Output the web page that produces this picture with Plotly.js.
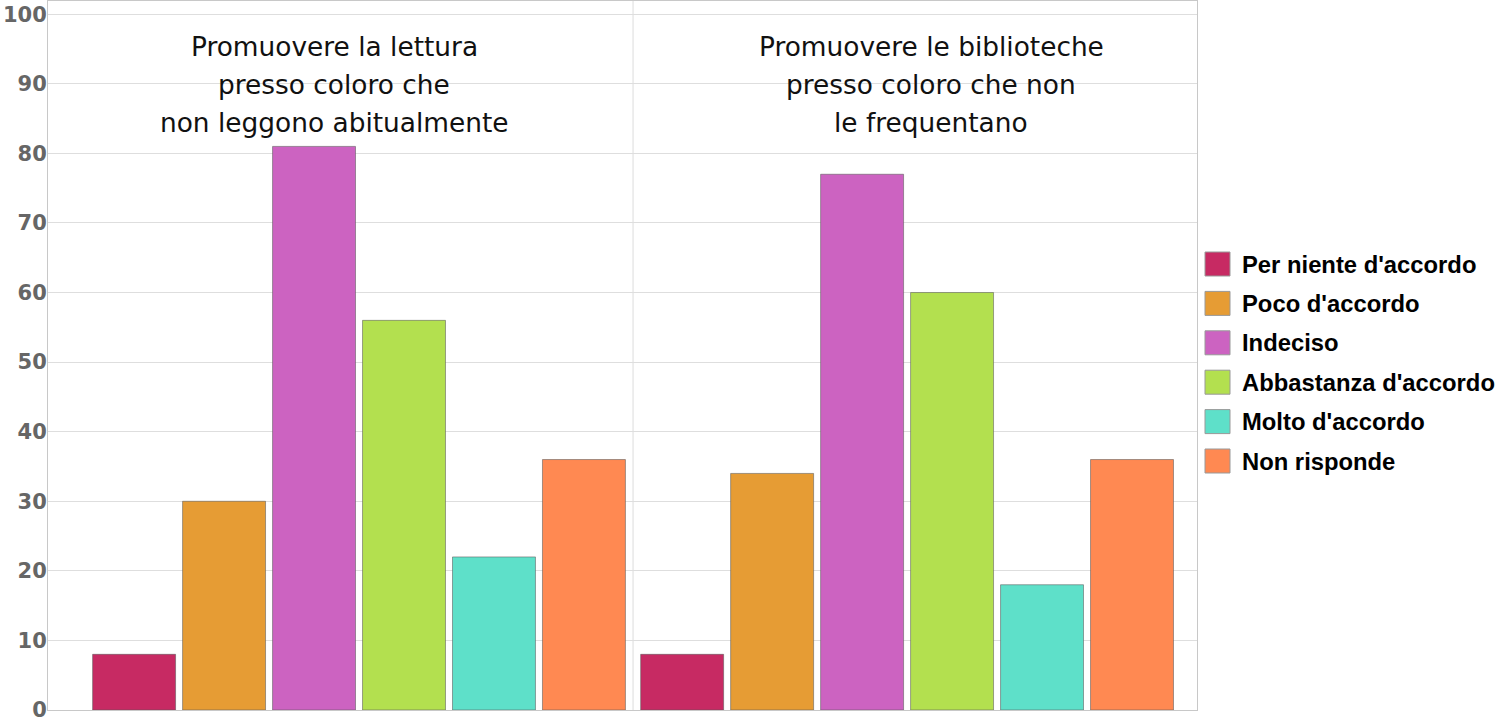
<!DOCTYPE html>
<html>
<head>
<meta charset="utf-8">
<script src="https://cdn.plot.ly/plotly-3.0.1.min.js"></script>
<style>html,body{margin:0;padding:0;background:#fff;}#chart{width:1496px;height:724px;}</style>
</head>
<body>
<div id="chart"></div>
<script>
var categories = ["Promuovere la lettura\npresso coloro che\nnon leggono abitualmente",
                  "Promuovere le biblioteche\npresso coloro che non\nle frequentano"];
var seriesNames = ["Per niente d'accordo", "Poco d'accordo", "Indeciso", "Abbastanza d'accordo", "Molto d'accordo", "Non risponde"];
var seriesColors = ["#C72A63", "#E69C34", "#CC63C1", "#B3E04F", "#5EE0C9", "#FF8952"];
var perNiente = [8, 8];
var poco = [30, 34];
var indeciso = [81, 77];
var abbastanza = [56, 60];
var molto = [22, 18];
var nonRisponde = [36, 36];
var seriesValues = [perNiente, poco, indeciso, abbastanza, molto, nonRisponde];
var yTicks = [0, 10, 20, 30, 40, 50, 60, 70, 80, 90, 100];

var xIdx = categories.map(function(c, i){ return i; });
var traces = seriesNames.map(function(name, k){
  return {
    type: 'bar', name: name, x: xIdx, y: seriesValues[k],
    marker: {color: seriesColors[k], line: {color: 'rgba(90,90,90,0.55)', width: 1}},
    hoverinfo: 'y+name'
  };
});

var annotations = [];
var lineY = [95.3, 89.95, 84.5];
var titleX = [0.249, 0.7685];
categories.forEach(function(c, i){
  c.split('\n').forEach(function(line, j){
    annotations.push({xref: 'paper', yref: 'y', x: titleX[i], y: lineY[j], text: line, showarrow: false,
      xanchor: 'center', yanchor: 'middle', font: {family: 'DejaVu Sans', size: 26.4, color: '#111'}});
  });
});

var shapes = [{type: 'line', xref: 'x', yref: 'paper', x0: 0.5, x1: 0.5, y0: 0, y1: 1,
  line: {color: '#dcdcdc', width: 1}, layer: 'below'}];

// custom legend
var legX0 = 1205, legYStart = 264, legStep = 39.4;
seriesNames.forEach(function(name, k){
  var cy = legYStart + k * legStep;
  shapes.push({type: 'rect', xref: 'paper', yref: 'paper',
    x0: (legX0 - 48) / (1197 - 48), x1: (legX0 + 25 - 48) / (1197 - 48),
    y0: (710 - (cy + 12)) / (710 - 1), y1: (710 - (cy - 12)) / (710 - 1),
    fillcolor: seriesColors[k], line: {color: '#999', width: 1}});
  annotations.push({xref: 'paper', yref: 'paper', x: (1240 - 48) / (1197 - 48), y: (710 - cy) / (710 - 1),
    xanchor: 'left', yanchor: 'middle', text: name, showarrow: false,
    font: {family: 'Liberation Sans', size: 23.8, color: '#000', weight: 'bold'}});
});

var layout = {
  width: 1496, height: 724,
  margin: {l: 48, r: 299, t: 1, b: 14, pad: 0},
  paper_bgcolor: '#fff', plot_bgcolor: '#fff',
  barmode: 'group', bargap: 0.015, bargroupgap: 0.078,
  showlegend: false,
  xaxis: {type: 'linear', range: [-0.5675, 1.529], showticklabels: false, showgrid: false,
    zeroline: false, showline: true, linecolor: '#c8c8c8', linewidth: 1, mirror: true, ticks: ''},
  yaxis: {range: [0, 101.9], tickvals: yTicks, ticktext: yTicks.map(String), showgrid: true,
    gridcolor: '#dedede', gridwidth: 1, zeroline: false, showline: true, linecolor: '#c8c8c8',
    linewidth: 1, mirror: true, ticks: '', ticklen: 0, ticklabelstandoff: -4,
    tickfont: {family: 'DejaVu Sans', size: 21, color: '#666', weight: 'bold'}},
  annotations: annotations,
  shapes: shapes
};

Plotly.newPlot('chart', traces, layout, {displayModeBar: false, staticPlot: true});
</script>
</body>
</html>
